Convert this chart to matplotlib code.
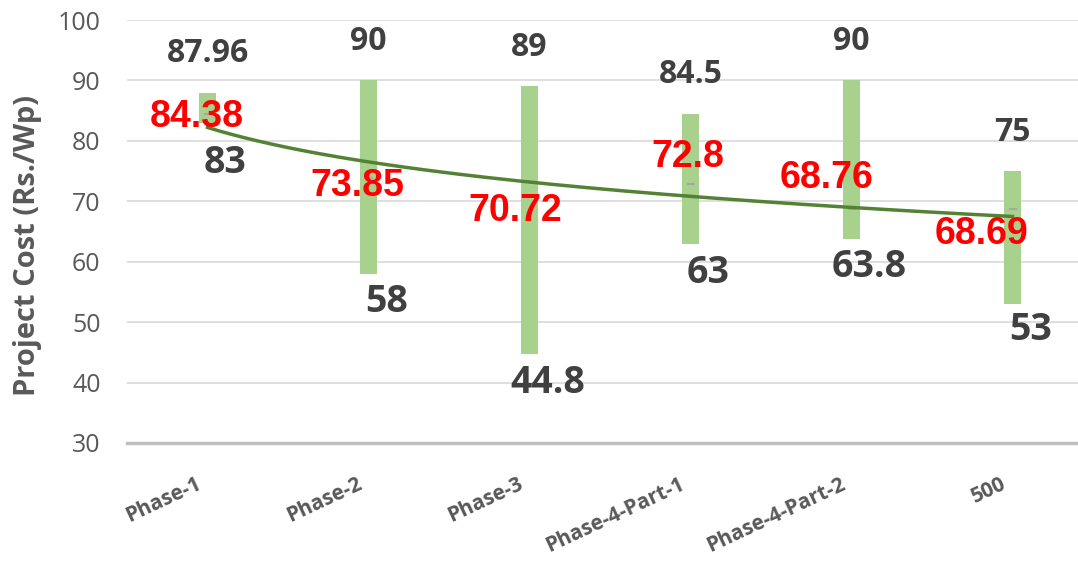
import numpy as np
import matplotlib.pyplot as plt
import matplotlib.transforms as mtransforms

# data
categories = ['Phase-1', 'Phase-2', 'Phase-3', 'Phase-4-Part-1', 'Phase-4-Part-2', '500']
high = [87.96, 90, 89, 84.5, 90, 75]
low = [83, 58, 44.8, 63, 63.8, 53]
avg = [84.38, 73.85, 70.72, 72.8, 68.76, 68.69]

# label offsets (points)
avg_dx = [-8, -8, -10, -2, -18, -22]
avg_dy = [-2, -6, -10, 20, 22, -18]
low_dy = [-29, -20, -21, -21, -20, -19]

GRAY = '#404040'
AXGRAY = '#595959'

fig = plt.figure(figsize=(10.78, 5.64), dpi=100)
ax = fig.add_axes([127 / 1078, 1 - 443 / 564, 966 / 1078, 423 / 564])

x = np.arange(1, len(categories) + 1)
ax.bar(x, np.array(high) - np.array(low), bottom=low, width=0.11,
       color='#A9D18E', zorder=2)

# tiny marker at the average
ax.scatter(x, avg, marker='_', s=30, color='#A6A6A6', zorder=3, linewidths=1.5)

# logarithmic trendline through the averages
b, a = np.polyfit(np.log(x), avg, 1)
xs = np.linspace(1, len(categories), 200)
ax.plot(xs, a + b * np.log(xs), color='#548235', lw=2.5, zorder=4)

for i in range(len(x)):
    ax.annotate(f'{high[i]:g}', (x[i], high[i]), xytext=(0, 28), textcoords='offset points',
                ha='center', va='center', fontsize=23, fontweight='bold', color=GRAY,
                family='Open Sans', zorder=5)
    ax.annotate(f'{low[i]:g}', (x[i], low[i]), xytext=(13, low_dy[i]), textcoords='offset points',
                ha='center', va='center', fontsize=27, fontweight='bold', color=GRAY,
                family='Open Sans', zorder=5)
    ax.annotate(f'{avg[i]:g}', (x[i], avg[i]), xytext=(avg_dx[i], avg_dy[i]),
                textcoords='offset points', ha='center', va='center', fontsize=27,
                fontweight='bold', color='#FF0000', family='Liberation Sans', zorder=6)

ax.set_ylim(30, 100)
ax.set_xlim(0.5, len(categories) + 0.5)
ax.set_yticks(range(30, 101, 10))
ax.yaxis.grid(True, color='#D9D9D9', lw=1.2, zorder=0)
ax.set_axisbelow(True)
for s in ['top', 'right', 'left']:
    ax.spines[s].set_visible(False)
ax.spines['bottom'].set_color('#BFBFBF')
ax.spines['bottom'].set_linewidth(2.5)
ax.tick_params(axis='both', length=0)
ax.tick_params(axis='y', labelsize=18, labelcolor=AXGRAY, pad=19)

ax.set_xticks(x)
ax.set_xticklabels(categories, rotation=25, ha='right', rotation_mode='anchor',
                   fontsize=15, fontweight='bold', color=AXGRAY, family='Open Sans')
ax.tick_params(axis='x', pad=22)
shift = mtransforms.ScaledTranslation(-12 / 100, 0, fig.dpi_scale_trans)
for lbl in ax.get_xticklabels():
    lbl.set_transform(lbl.get_transform() + shift)
for lbl in ax.get_yticklabels():
    lbl.set_family('Open Sans')

fig.text(28 / 1078, 1 - 245 / 564, 'Project Cost (Rs./Wp)', rotation=90, ha='center',
         va='center', fontsize=21, fontweight='bold', color=AXGRAY, family='Open Sans')

fig.savefig('out.png', dpi=100)
